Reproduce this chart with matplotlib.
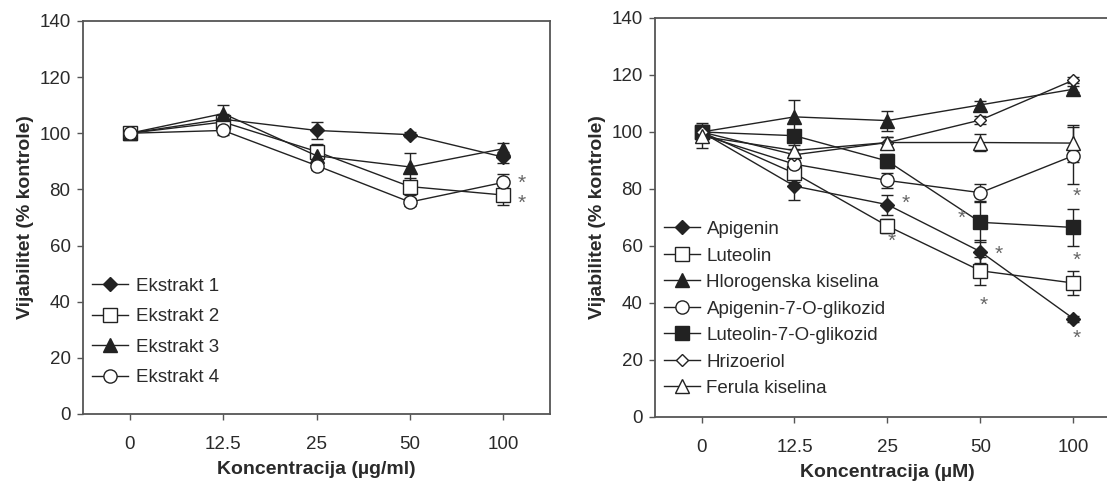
import numpy as np
import matplotlib
matplotlib.use("Agg")
import matplotlib.pyplot as plt

plt.rcParams['font.family'] = ['Liberation Sans', 'DejaVu Sans']

conc_ext = ['0', '12.5', '25', '50', '100']
conc_cmp = ['0', '12.5', '25', '50', '100']

# extracts (ug/ml)
ext_names = ['Ekstrakt 1', 'Ekstrakt 2', 'Ekstrakt 3', 'Ekstrakt 4']
ext1 = [100, 105, 101, 99.5, 91.5]
ext2 = [100, 104, 93.5, 81, 78]
ext3 = [100, 107, 92, 88, 94.5]
ext4 = [100, 101, 88.5, 75.5, 82.5]
ext1_err = [1.5, 2, 3, 1, 2]
ext2_err = [2, 2, 2.5, 3, 3.5]
ext3_err = [1.5, 3, 2, 5, 2]
ext4_err = [2, 1.5, 1.5, 1.5, 3]
ext_star_x = [4.2, 4.2]
ext_star_y = [82, 75]

# pure compounds (uM)
cmp_names = ['Apigenin', 'Luteolin', 'Hlorogenska kiselina', 'Apigenin-7-O-glikozid',
             'Luteolin-7-O-glikozid', 'Hrizoeriol', 'Ferula kiselina']
apigenin = [100, 81, 74.5, 58, 34.5]
luteolin = [100, 85.5, 67, 51.3, 47]
hlorogenska = [100, 105.3, 104, 109.5, 115]
api7og = [99, 88.7, 83, 78.7, 91.7]
lut7og = [100, 98.7, 89.8, 68.3, 66.5]
hrizoeriol = [100, 92, 96.3, 104.2, 118.2]
ferula = [98.5, 93.5, 96.3, 96.3, 96.1]
apigenin_err = [3, 5, 3.5, 4, 1]
luteolin_err = [2, 3, 2.5, 5, 4.3]
hlorogenska_err = [2, 6, 3.5, 1.5, 1]
api7og_err = [2, 3, 2.5, 3, 10]
lut7og_err = [2, 2, 2.5, 7, 6.5]
hrizoeriol_err = [2, 2, 2, 1.5, 1]
ferula_err = [4, 2, 2, 3, 6.5]
cmp_star_x = [2.2, 2.05, 2.8, 3.2, 3.03, 4.03, 4.03, 4.03]
cmp_star_y = [75, 61.5, 69.7, 57.2, 39.3, 77.3, 55, 27.6]

LINE = '#222222'
TEXT = '#2a2a2a'
STAR = '#666666'

# marker, fill, size for each series
ext_style = [('D', LINE, 7.5), ('s', 'white', 9.5), ('^', LINE, 9.5), ('o', 'white', 9.5)]
cmp_style = [('D', LINE, 7.5), ('s', 'white', 9.5), ('^', LINE, 9.5), ('o', 'white', 9.5),
             ('s', LINE, 9.5), ('D', 'white', 6.5), ('^', 'white', 9.5)]


def draw_panel(ax, series, errors, names, styles, ticklabels, xlabel):
    x = np.arange(len(ticklabels))
    handles = []
    for vals, err, name, (mk, fc, ms) in zip(series, errors, names, styles):
        eb = ax.errorbar(x, vals, yerr=err, color=LINE, lw=1, elinewidth=1, capsize=4,
                         capthick=1, marker=mk, mfc=fc, mec=LINE, mew=1, ms=ms,
                         label=name, clip_on=False)
        handles.append(eb[0])
    ax.set_xlim(-0.5, len(ticklabels) - 0.5)
    ax.set_ylim(0, 140)
    ax.set_yticks(range(0, 141, 20))
    ax.set_xticks(x)
    ax.set_xticklabels(ticklabels)
    ax.tick_params(axis='x', direction='out', length=4, width=1, pad=11.5,
                   labelsize=13.5, colors='#555555', labelcolor=TEXT)
    ax.tick_params(axis='y', direction='out', length=4, width=1, pad=5,
                   labelsize=13.5, colors='#555555', labelcolor=TEXT)
    for s in ax.spines.values():
        s.set_color('#555555')
        s.set_linewidth(1.3)
    ax.set_xlabel(xlabel, fontsize=14, fontweight='bold', color=TEXT, labelpad=6)
    ax.set_ylabel('Vijabilitet (% kontrole)', fontsize=14, fontweight='bold',
                  color=TEXT, labelpad=4)
    return handles


fig = plt.figure(figsize=(11.07, 4.82), dpi=100)

ax1 = fig.add_axes([0.075, 0.1411, 0.4219, 0.8154])
h1 = draw_panel(ax1, [ext1, ext2, ext3, ext4], [ext1_err, ext2_err, ext3_err, ext4_err],
                ext_names, ext_style, conc_ext, 'Koncentracija (\u00b5g/ml)')
for sx, sy in zip(ext_star_x, ext_star_y):
    ax1.text(sx, sy, '*', ha='center', va='center', fontsize=15, color=STAR,
             clip_on=False)
ax1.legend(h1, ext_names, loc='lower left', bbox_to_anchor=(0.02, 0.07), frameon=False,
           fontsize=13.5, handlelength=1.9, handletextpad=0.45, labelspacing=0.72,
           borderpad=0, borderaxespad=0, labelcolor=TEXT)

ax2 = fig.add_axes([0.5917, 0.1349, 0.42, 0.8278])
h2 = draw_panel(ax2, [apigenin, luteolin, hlorogenska, api7og, lut7og, hrizoeriol, ferula],
                [apigenin_err, luteolin_err, hlorogenska_err, api7og_err, lut7og_err,
                 hrizoeriol_err, ferula_err],
                cmp_names, cmp_style, conc_cmp, 'Koncentracija (\u00b5M)')
for sx, sy in zip(cmp_star_x, cmp_star_y):
    ax2.text(sx, sy, '*', ha='center', va='center', fontsize=15, color=STAR,
             clip_on=False)
ax2.legend(h2, cmp_names, loc='lower left', bbox_to_anchor=(0.02, 0.05), frameon=False,
           fontsize=13.5, handlelength=1.9, handletextpad=0.35, labelspacing=0.5,
           borderpad=0, borderaxespad=0, labelcolor=TEXT)

fig.savefig('out.png', dpi=100)
